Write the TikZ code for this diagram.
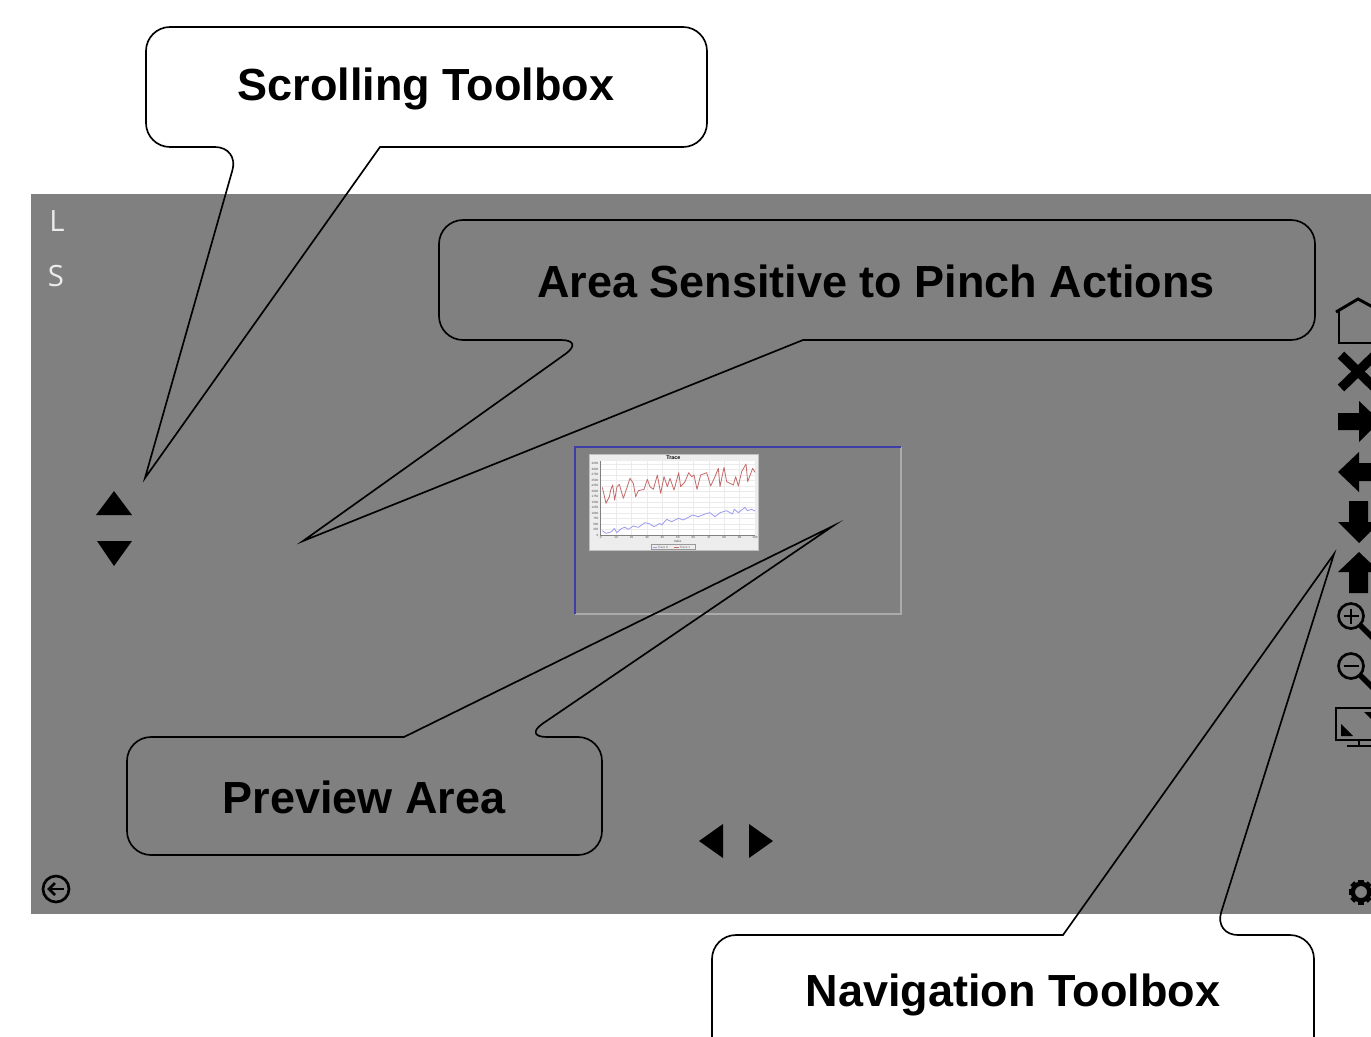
\documentclass[tikz,border=0pt]{standalone}
\usepackage{fontspec}
\setmainfont{Liberation Sans}
\newfontfamily\uifont{Open Sans}
\definecolor{panel}{HTML}{808080}
\definecolor{framblue}{HTML}{3E3EA6}
\definecolor{framgrey}{HTML}{ABABAB}
\definecolor{chartbg}{HTML}{EDEDED}
\definecolor{tracered}{HTML}{C46A6A}
\definecolor{traceblue}{HTML}{9A9AF0}
\tikzset{
  callout/.style={draw=black,line width=1.25pt,line join=miter,miter limit=20},
  calltext/.style={font=\fontsize{33.75}{40}\selectfont\bfseries,text=black,inner sep=0pt},
  uiletter/.style={font=\uifont\fontsize{22}{26}\selectfont,text=white!92!black,inner sep=0pt},
  solidicon/.style={fill=black,draw=none},
  lineicon/.style={draw=black,line width=2pt,fill=none},
  ticktext/.style={font=\fontsize{2.3}{3}\selectfont,text=black!70,inner sep=0pt},
}
\begin{document}
\begin{tikzpicture}[x=0.75pt,y=-0.75pt]
\useasboundingbox (0,0) rectangle (1371,1036);
\clip (0,0) rectangle (1371,1036);
\fill[panel] (31,194) rectangle (1371,914);

% preview frame
\draw[framgrey,line width=1.5pt] (901,447) -- (901,614) -- (575,614);
\draw[framblue,line width=1.5pt] (575,614) -- (575,447) -- (901,447);

% chart thumbnail
\begin{scope}[shift={(570,440)},x=0.25pt,y=-0.25pt]
  \fill[chartbg] (57,43) rectangle (565,330);
  \draw[black!25,line width=.4pt] (57,43) rectangle (565,330);
  \fill[white] (92,63) rectangle (555,285);
  \foreach \k in {0,...,10}{
    \draw[black!8,line width=.3pt] ({92+46.3*\k},63) -- ({92+46.3*\k},285);
    \pgfmathtruncatemacro{\lab}{10*\k}
    \node[ticktext] (xt\k) at ({92+46.3*\k},292) {\lab};
  }
  \foreach \k in {0,...,13}{
    \draw[black!8,line width=.3pt] (92,{285-16.4*\k}) -- (555,{285-16.4*\k});
    \pgfmathtruncatemacro{\lab}{250*\k}
    \node[ticktext,anchor=east] (yt\k) at (86,{285-16.4*\k}) {\lab};
  }
  \draw[black!50,line width=.3pt] (92,63) -- (92,285) -- (555,285);
  \node[font=\fontsize{4}{5}\selectfont\bfseries,inner sep=0pt] (charttitle) at (310,52) {Trace};
  \node[ticktext] (xname) at (323,303) {Index};
  \draw[black!40,fill=chartbg,line width=.3pt] (245,314) rectangle (376,328);
  \node[ticktext,text=black!60] (leg0) at (278,321) {Trace 0};
  \node[ticktext,text=black!60] (leg1) at (345,321) {Trace 1};
  \draw[traceblue,line width=.4pt] (248,321) -- (262,321);
  \draw[tracered,line width=.4pt] (312,321) -- (326,321);
  \draw[tracered,line width=.6pt,line join=round]
    (97,142)--(108,190)--(118,170)--(122,150)--(128,135)--(134,180)--(141,140)--(148,133)--(160,175)--(170,145)--(180,115)--(190,130)--(197,170)--(205,152)--(222,148)--(232,118)--(240,140)--(250,148)--(262,105)--(272,160)--(282,110)--(292,140)--(300,115)--(312,150)--(326,98)--(332,140)--(345,125)--(356,98)--(365,110)--(372,105)--(381,148)--(392,105)--(410,98)--(422,138)--(435,110)--(445,85)--(450,140)--(462,82)--(470,125)--(490,135)--(497,110)--(505,138)--(515,95)--(528,72)--(533,125)--(548,85)--(555,97);
  \draw[traceblue,line width=.6pt,line join=round]
    (97,272)--(108,280)--(125,275)--(133,265)--(140,278)--(155,265)--(165,262)--(175,268)--(190,258)--(205,262)--(225,248)--(240,252)--(252,260)--(270,250)--(275,255)--(290,238)--(305,245)--(325,235)--(340,240)--(355,232)--(368,225)--(385,230)--(405,222)--(420,218)--(435,230)--(450,218)--(470,212)--(487,222)--(493,208)--(505,218)--(525,202)--(532,212)--(545,208)--(555,213);
\end{scope}

% side letters
\node[uiletter] (letterL) at (57,221) {L};
\node[uiletter] (letterS) at (56,276) {S};

% scrolling and paging triangles
\fill[solidicon] (96,515) -- (132,515) -- (114,491) -- cycle;
\fill[solidicon] (97,541) -- (132,541) -- (114,566) -- cycle;
\fill[solidicon] (723,824) -- (723,858) -- (699,841) -- cycle;
\fill[solidicon] (749,824) -- (749,858) -- (773,841) -- cycle;

% back button
\draw[lineicon] (56,889) circle (13);
\draw[black,line width=2pt] (49,889) -- (64,889);
\draw[black,line width=2pt,line join=miter] (55,883) -- (49,889) -- (55,895);

% gear
\fill[black,even odd rule]
  (1361,892) circle (6)
  (1361,892) circle (10.5);
\foreach \a in {0,45,...,315}{
  \fill[black,rotate around={\a:(1361,892)}] (1358.2,879.5) rectangle (1363.8,884);
}

% house
\draw[lineicon,line width=2.2pt,line join=miter] (1336,312) -- (1358,299) -- (1382,312);
\draw[lineicon,line width=2.2pt] (1339,311) -- (1339,343) -- (1375,343);
% cross
\draw[black,line width=7pt] (1341,355) -- (1375,388);
\draw[black,line width=7pt] (1341,388) -- (1375,355);
% arrows
\fill[solidicon] (1338,413) -- (1359,413) -- (1359,401) -- (1380,421) -- (1359,442) -- (1359,430) -- (1338,430) -- cycle;
\fill[solidicon] (1338,472) -- (1359,452) -- (1359,463) -- (1380,463) -- (1380,481) -- (1359,481) -- (1359,492) -- cycle;
\fill[solidicon] (1349,501) -- (1368,501) -- (1368,522) -- (1380,522) -- (1359,543) -- (1338,522) -- (1349,522) -- cycle;
\fill[solidicon] (1359,552) -- (1380,572) -- (1368,572) -- (1368,593) -- (1349,593) -- (1349,572) -- (1338,572) -- cycle;
% zoom in
\draw[lineicon,line width=2pt] (1351,616) circle (12.5);
\draw[black,line width=1.6pt] (1343.5,616) -- (1358.5,616) (1351,608.5) -- (1351,623.5);
\draw[black,line width=4pt] (1360,625) -- (1385,650);
% zoom out
\draw[lineicon,line width=2pt] (1351,666) circle (12.5);
\draw[black,line width=1.6pt] (1343.5,666) -- (1358.5,666);
\draw[black,line width=4pt] (1360,675) -- (1385,700);
% monitor
\draw[lineicon,line width=2pt] (1380,708) -- (1336,708) -- (1336,740) -- (1380,740);
\fill[solidicon] (1341,724) -- (1341,736) -- (1353,736) -- cycle;
\fill[solidicon] (1364,712) -- (1375,712) -- (1375,723) -- cycle;
\draw[black,line width=1.6pt] (1359,740) -- (1359,746) (1347,746) -- (1375,746);

% callouts
\coordinate (tipScroll) at (145,478);
\coordinate (tipPinch) at (303,541);
\coordinate (tipPreview) at (833,526);
\coordinate (tipNav) at (1334,554);

\draw[callout] (380,147) [rounded corners=18pt] -- (707,147) -- (707,27) -- (146,27) -- (146,147) -- (239,147) [sharp corners] -- (tipScroll) -- cycle;
\draw[callout] (803,340) [rounded corners=18pt] -- (1315,340) -- (1315,220) -- (439,220) -- (439,340) -- (585,340) [sharp corners] -- (tipPinch) -- cycle;
\draw[callout] (404,737) [rounded corners=18pt] -- (127,737) -- (127,855) -- (602,855) -- (602,737) -- (523,737) [sharp corners] -- (tipPreview) -- cycle;
\draw[callout] (1063,935) [rounded corners=18pt] -- (712,935) -- (712,1080) -- (1314,1080) -- (1314,935) -- (1214,935) [sharp corners] -- (tipNav) -- cycle;

\node[calltext] (lblScroll) at (426,89) {Scrolling Toolbox};
\node[calltext] (lblPinch) at (876,281) {Area Sensitive to Pinch Actions};
\node[calltext] (lblPreview) at (364,797) {Preview Area};
\node[calltext] (lblNav) at (1013,995) {Navigation Toolbox};
\end{tikzpicture}
\end{document}
